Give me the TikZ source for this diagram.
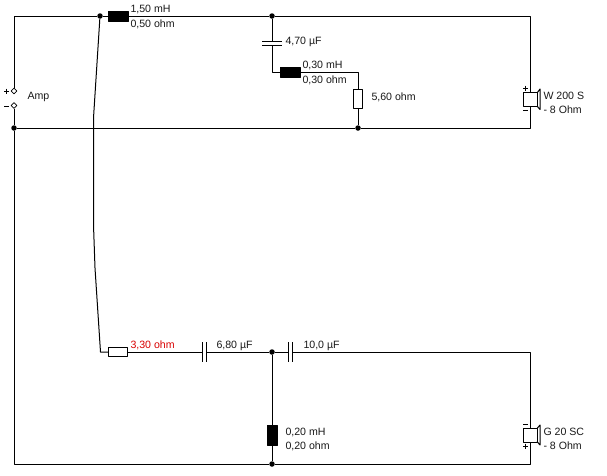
\documentclass[tikz,border=0pt]{standalone}
\usepackage{fontspec}
\setmainfont{Liberation Sans}
\tikzset{
	lbl/.style={inner sep=0pt,anchor=west,font=\fontsize{10.6}{12}\selectfont,text=black!90},
	coil/.style={draw,fill=black,minimum width=20pt,minimum height=10pt,inner sep=0pt,outer sep=0pt},
	vcoil/.style={coil,minimum width=10pt,minimum height=20pt},
	res/.style={draw,fill=white,minimum width=19pt,minimum height=9pt,inner sep=0pt,outer sep=0pt},
	vres/.style={res,minimum width=9pt,minimum height=19pt},
	junct/.style={circle,fill=black,inner sep=0pt,minimum size=5.5pt},
	term/.style={diamond,draw,fill=white,line width=0.7pt,inner sep=0pt,minimum size=6pt},
	spk/.style={draw,fill=white,minimum width=14pt,minimum height=14pt,inner sep=0pt,outer sep=0pt}
}
\usetikzlibrary{shapes.geometric}
\begin{document}
\begin{tikzpicture}[line join=round,x=1pt,y=-1pt,line width=1pt]
	\useasboundingbox[fill=white] (0,0) rectangle (607,475);
	% nodes of the upper branch
	\node[term] (tplus) at (14,91) {};
	\node[term] (tminus) at (14,105.5) {};
	\node[junct] (ja) at (100,16) {};
	\node[junct] (jb) at (272,16) {};
	\node[junct] (jc) at (14,128) {};
	\node[junct] (jd) at (358,128) {};
	\node[coil] (l1) at (118,16) {};
	\node[coil] (l2) at (290,72) {};
	\node[vres] (r1) at (358,98.5) {};
	\node[spk] (sp1) at (530,99.5) {};
	% nodes of the lower branch
	\node[res] (r2) at (118,352) {};
	\node[junct] (je) at (272,352) {};
	\node[junct] (jf) at (272,464) {};
	\node[vcoil] (l3) at (272,435) {};
	\node[spk] (sp2) at (530,435) {};
	\coordinate (c1a) at (272,41);
	\coordinate (c1b) at (272,45);
	\coordinate (c2a) at (202.5,352);
	\coordinate (c2b) at (206.5,352);
	\coordinate (c3a) at (288,352);
	\coordinate (c3b) at (292,352);
	\coordinate (kinka) at (93.5,118);
	\coordinate (kinkb) at (93.5,225);
	\coordinate (kinkc) at (95,268);
	\coordinate (foot) at (100.5,352);
	% wires
	\draw (tplus) -- (14,16) -- (ja) -- (l1) (l1) -- (jb) -- (530,16) -- (sp1);
	\draw (tminus) -- (jc) -- (14,464) -- (jf) -- (530,464) -- (sp2);
	\draw (jc) -- (jd) -- (530,128) -- (sp1);
	\draw (jb) -- (c1a) (c1b) -- (272,72) -- (l2) (l2) -- (358,72) -- (r1) (r1) -- (jd);
	\draw (ja) -- (kinka) -- (kinkb) -- (kinkc) -- (foot) -- (r2);
	\draw (r2) -- (c2a) (c2b) -- (je) -- (c3a) (c3b) -- (530,352) -- (sp2);
	\draw (je) -- (l3) (l3) -- (jf);
	% capacitor plates
	\draw (262,41) -- (282,41) (262,45) -- (282,45);
	\draw (202.5,342) -- (202.5,362) (206.5,342) -- (206.5,362);
	\draw (288,342) -- (288,362) (292,342) -- (292,362);
	% speaker cones
	\draw (537,93) -- (540,89) -- (540,109.5) -- (537,106);
	\draw (537,428.5) -- (540,425) -- (540,445) -- (537,441.5);
	% polarity signs
	\draw (4,91) -- (9,91) (6.5,88.5) -- (6.5,93.5) (4,106) -- (9,106);
	\draw (523,88) -- (528,88) (525.5,85.5) -- (525.5,90.5) (523,110) -- (528,110);
	\draw (523,424) -- (528,424) (523,446) -- (528,446) (525.5,443.5) -- (525.5,448.5);
	% labels
	\node[lbl] (t1) at (27,97) {Amp};
	\node[lbl] (t2) at (130,9.5) {1,50 mH};
	\node[lbl] (t3) at (130,24.5) {0,50 ohm};
	\node[lbl] (t4) at (285,41.5) {4,70 µF};
	\node[lbl] (t5) at (302,65.5) {0,30 mH};
	\node[lbl] (t6) at (302,80.5) {0,30 ohm};
	\node[lbl] (t7) at (371,97) {5,60 ohm};
	\node[lbl] (t8) at (543,95.5) {W 200 S};
	\node[lbl] (t9) at (543,109.5) {- 8 Ohm};
	\node[lbl,text=red!85!black] (t10) at (130,345.5) {3,30 ohm};
	\node[lbl] (t11) at (216,345.5) {6,80 µF};
	\node[lbl] (t12) at (303,345.5) {10,0 µF};
	\node[lbl] (t13) at (285,432.5) {0,20 mH};
	\node[lbl] (t14) at (285,446.5) {0,20 ohm};
	\node[lbl] (t15) at (543,431.5) {G 20 SC};
	\node[lbl] (t16) at (543,445.5) {- 8 Ohm};
\end{tikzpicture}
\end{document}
